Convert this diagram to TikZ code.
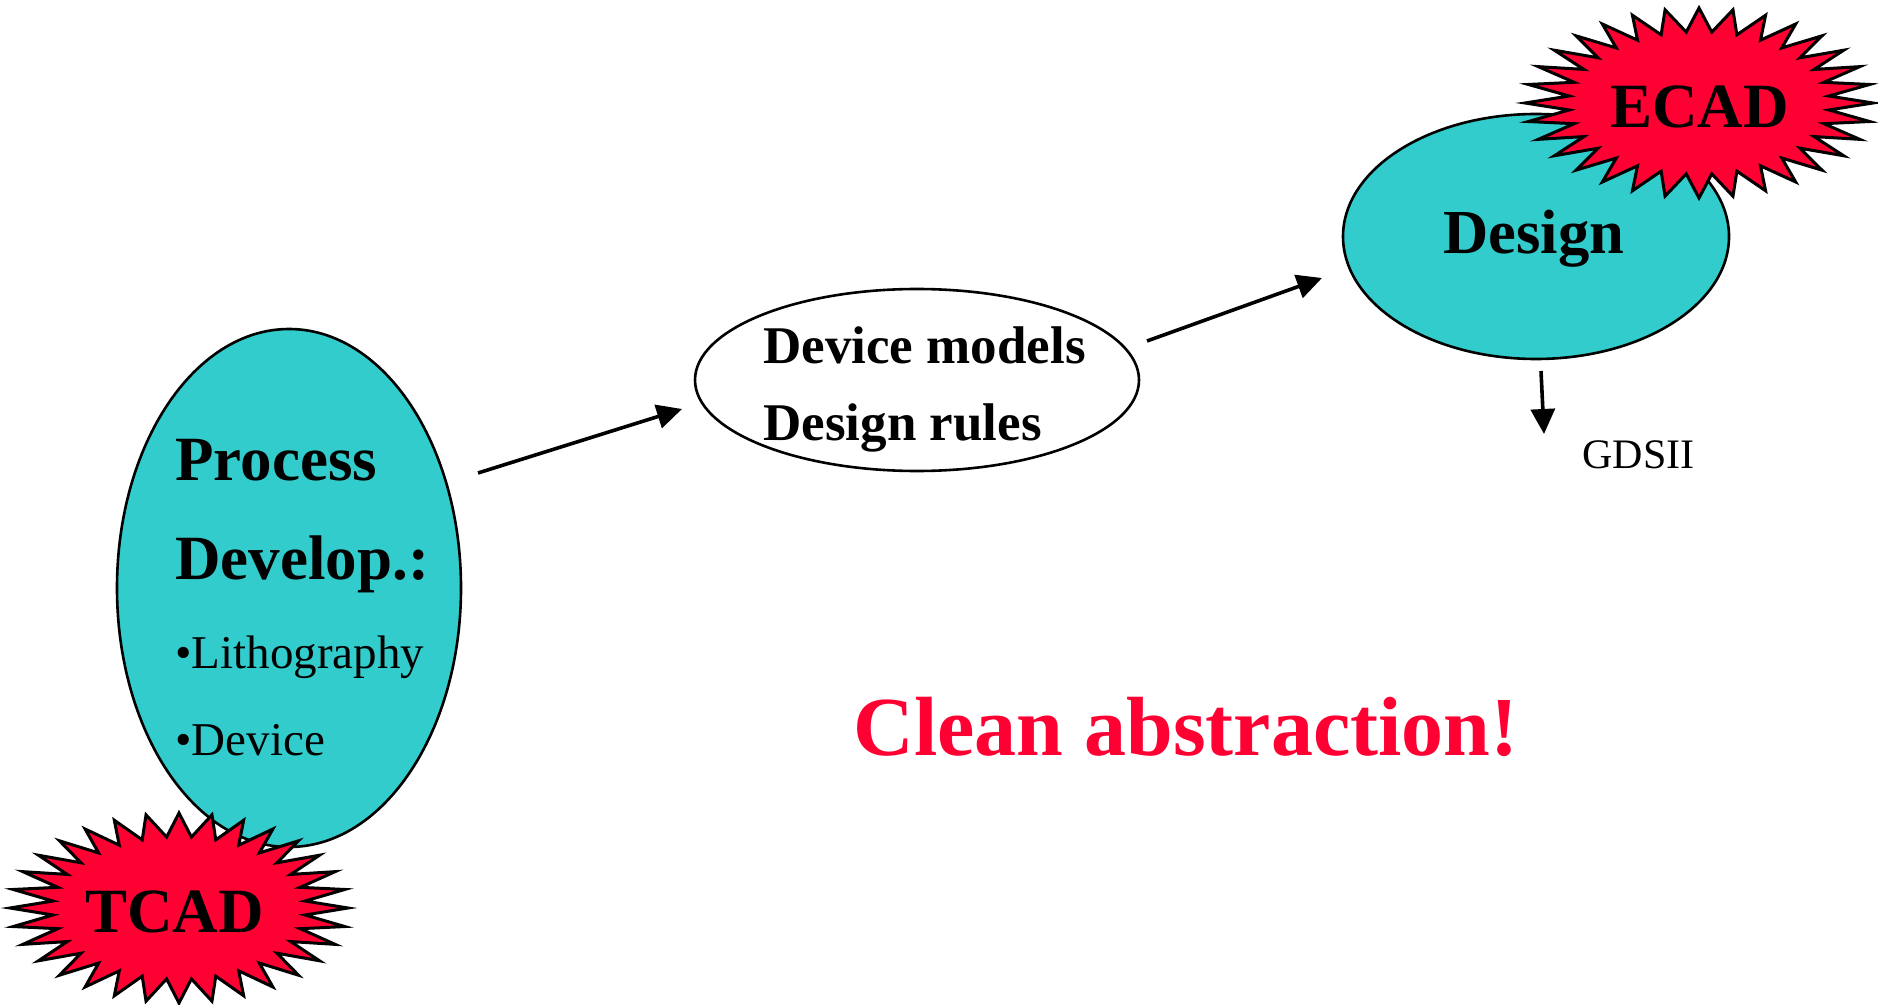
\documentclass[tikz,border=0pt]{standalone}
\usepackage{fontspec}
\setmainfont{Liberation Serif}
\usetikzlibrary{shapes.geometric,arrows.meta}
\definecolor{teal}{HTML}{33CCCC}
\definecolor{burst}{HTML}{FF0033}
\tikzset{
  blob/.style={ellipse,draw=black,line width=1.3pt,inner sep=0pt},
  conn/.style={line width=1.8pt,-{Triangle[length=12.5pt,width=12pt]}},
  star/.style={draw=black,fill=burst,line width=1.5pt,line join=miter},
  txt/.style={anchor=base west,inner sep=0pt},
}
\newcommand{\burstpath}[4]{% cx cy a b
  \path[star] ({#1},{#2-#4}) \foreach \k in {1,...,63}{
    -- ({#1+#3*(1-0.25*mod(\k,2))*cos(90+\k*5.625)},{#2-#4*(1-0.25*mod(\k,2))*sin(90+\k*5.625)})
  } -- cycle;}
\begin{document}
\begin{tikzpicture}[x=0.5pt,y=-0.5pt]
\useasboundingbox (0,0) rectangle (1878,1005);
% ellipses
\node[blob,fill=teal,minimum width=172pt,minimum height=259pt] (proc) at (289,588) {};
\node[blob,fill=white,minimum width=222pt,minimum height=91pt] (dev) at (917,380) {};
\node[blob,fill=teal,minimum width=193pt,minimum height=122.5pt] (des) at (1536,236.5) {};
% texts
\node[txt,font=\fontsize{31.5}{36}\selectfont\bfseries] (t1) at (175,480) {Process};
\node[txt,font=\fontsize{31.5}{36}\selectfont\bfseries] (t2) at (175,579) {Develop.:};
\node[txt,font=\fontsize{23.5}{28}\selectfont] (t3) at (175,668) {•Lithography};
\node[txt,font=\fontsize{23.5}{28}\selectfont] (t4) at (175,755) {•Device};
\node[txt,font=\fontsize{26.5}{30}\selectfont\bfseries] (t5) at (763,364) {Device models};
\node[txt,font=\fontsize{26.5}{30}\selectfont\bfseries] (t6) at (763,440) {Design rules};
\node[txt,font=\fontsize{31.3}{36}\selectfont\bfseries] (t7) at (1443,254) {Design};
\node[txt,font=\fontsize{21}{25}\selectfont] (gds) at (1582,468) {GDSII};
\node[txt,font=\fontsize{42}{50}\selectfont\bfseries,text=burst] (clean) at (853,755) {Clean abstraction!};
% connectors
\coordinate (a1s) at (478,473);
\coordinate (a1e) at (682,409);
\coordinate (a2s) at (1147,341);
\coordinate (a2e) at (1322,278);
\coordinate (a3s) at (1541,371);
\coordinate (a3e) at (1544,434);
\draw[conn] (a1s) -- (a1e);
\draw[conn] (a2s) -- (a2e);
\draw[conn] (a3s) -- (a3e);
% bursts
\burstpath{179}{908}{169}{95}
\node[txt,font=\fontsize{31.5}{36}\selectfont\bfseries] (tcad) at (85,932) {TCAD};
\burstpath{1699}{103}{174}{95}
\node[txt,font=\fontsize{31.5}{36}\selectfont\bfseries] (ecad) at (1610,128) {ECAD};
\end{tikzpicture}
\end{document}
